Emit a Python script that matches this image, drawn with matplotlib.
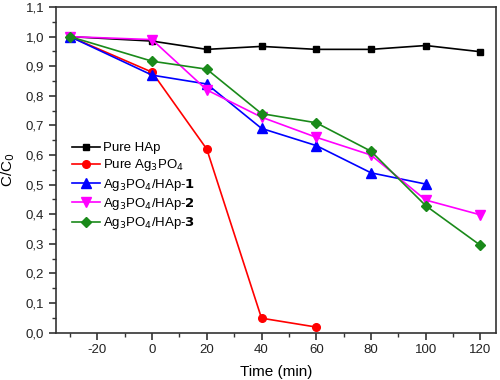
import matplotlib
matplotlib.use("Agg")
import matplotlib.pyplot as plt
from matplotlib.ticker import FuncFormatter, MultipleLocator

plt.rcParams['font.family'] = ['Liberation Sans', 'DejaVu Sans']

time_hap = [-30, 0, 20, 40, 60, 80, 100, 120]
pure_hap = [1.0, 0.985, 0.957, 0.967, 0.957, 0.957, 0.97, 0.949]

time_ag = [-30, 0, 20, 40, 60]
pure_ag = [1.0, 0.88, 0.62, 0.049, 0.019]

time_1 = [-30, 0, 20, 40, 60, 80, 100]
hap_1 = [1.0, 0.87, 0.84, 0.69, 0.632, 0.54, 0.502]

time_2 = [-30, 0, 20, 40, 60, 80, 100, 120]
hap_2 = [1.0, 0.99, 0.82, 0.728, 0.66, 0.60, 0.448, 0.398]

time_3 = [-30, 0, 20, 40, 60, 80, 100, 120]
hap_3 = [1.0, 0.917, 0.89, 0.74, 0.709, 0.613, 0.429, 0.295]

labels = ['Pure HAp', 'Pure Ag$_3$PO$_4$', 'Ag$_3$PO$_4$/HAp-$\\mathbf{1}$',
          'Ag$_3$PO$_4$/HAp-$\\mathbf{2}$', 'Ag$_3$PO$_4$/HAp-$\\mathbf{3}$']

fig = plt.figure(figsize=(5, 3.8), dpi=100)
ax = fig.add_axes([0.112, 0.1245, 0.879, 0.857])

lw = 1.2
ax.plot(time_hap, pure_hap, color='black', marker='s', ms=5, lw=lw, label=labels[0])
ax.plot(time_ag, pure_ag, color='red', marker='o', ms=5.5, lw=lw, label=labels[1])
ax.plot(time_1, hap_1, color='blue', marker='^', ms=6.5, lw=lw, label=labels[2])
ax.plot(time_2, hap_2, color='magenta', marker='v', ms=6.5, lw=lw, label=labels[3])
ax.plot(time_3, hap_3, color='#1a8a1a', marker='D', ms=5, lw=lw, label=labels[4])

ax.set_xlim(-35.1, 125.5)
ax.set_ylim(0, 1.1)
ax.xaxis.set_major_locator(MultipleLocator(20))
ax.xaxis.set_minor_locator(MultipleLocator(10))
ax.yaxis.set_major_locator(MultipleLocator(0.1))
ax.yaxis.set_minor_locator(MultipleLocator(0.05))
ax.yaxis.set_major_formatter(FuncFormatter(lambda v, p: f"{v:.1f}".replace('.', ',')))
ax.xaxis.set_major_formatter(FuncFormatter(lambda v, p: f"{v:.0f}"))
ax.tick_params(which='major', direction='out', length=5, width=1.2, labelsize=9.5, colors='#333333', labelcolor='#222222')
ax.tick_params(which='minor', direction='out', length=3, width=1.0, colors='#333333')
for s in ax.spines.values():
    s.set_linewidth(1.2)
    s.set_color('#333333')

ax.set_xlabel('Time (min)', fontsize=11, labelpad=6)
ax.set_ylabel('C/C$_0$', fontsize=11, labelpad=6)

leg = ax.legend(loc='upper left', bbox_to_anchor=(0.025, 0.602), frameon=False, fontsize=9.5,
                handlelength=2.1, labelspacing=0.25, handletextpad=0.2, borderaxespad=0)
fig.savefig('out.png', dpi=100)
